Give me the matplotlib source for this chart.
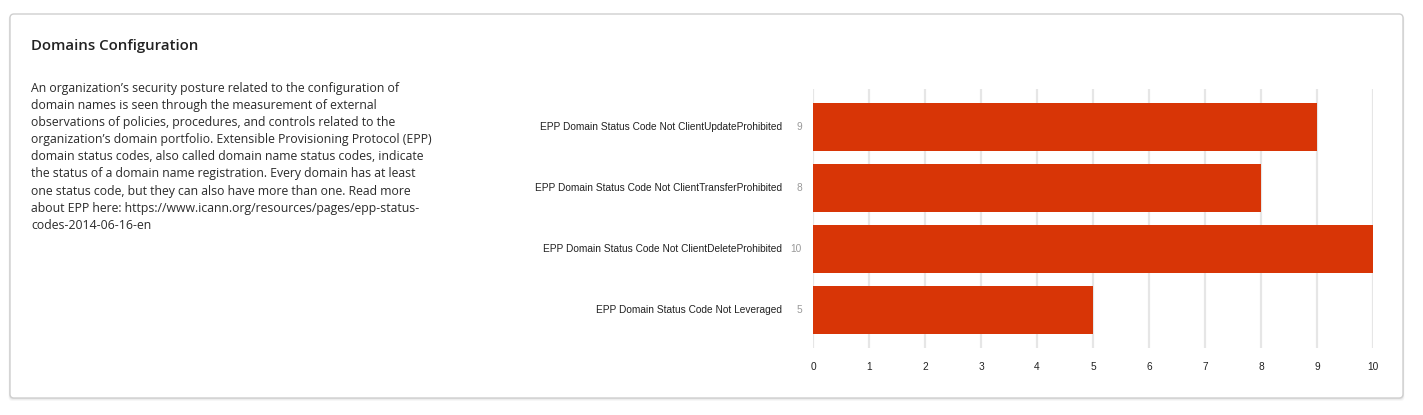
import matplotlib.pyplot as plt
from matplotlib.patches import FancyBboxPatch

# ---- data ----
categories = [
    "EPP Domain Status Code Not ClientUpdateProhibited",
    "EPP Domain Status Code Not ClientTransferProhibited",
    "EPP Domain Status Code Not ClientDeleteProhibited",
    "EPP Domain Status Code Not Leveraged",
]
counts = [9, 8, 10, 5]
x_ticks = [0, 1, 2, 3, 4, 5, 6, 7, 8, 9, 10]

title = "Domains Configuration"
description = (
    "An organization\u2019s security posture related to the configuration of\n"
    "domain names is seen through the measurement of external\n"
    "observations of policies, procedures, and controls related to the\n"
    "organization\u2019s domain portfolio. Extensible Provisioning Protocol (EPP)\n"
    "domain status codes, also called domain name status codes, indicate\n"
    "the status of a domain name registration. Every domain has at least\n"
    "one status code, but they can also have more than one. Read more\n"
    "about EPP here: https://www.icann.org/resources/pages/epp-status-\n"
    "codes-2014-06-16-en"
)

W, H = 1423, 415
fig = plt.figure(figsize=(W / 100, H / 100), dpi=100)
fig.patch.set_facecolor("white")

# -- card with soft shadow (kept below the axes) --
for i, a in enumerate([0.05, 0.04, 0.03]):
    d = (i + 1)
    sh = FancyBboxPatch((10 - d * 0.5, H - 398 - d), 1393 + d, 384 + d * 0.5,
                        boxstyle="round,pad=0,rounding_size=4",
                        transform=None, facecolor="black", alpha=a,
                        edgecolor="none", zorder=-3)
    fig.patches.append(sh)
card = FancyBboxPatch((10, H - 398), 1393, 384,
                      boxstyle="round,pad=0,rounding_size=4",
                      transform=None, facecolor="white",
                      edgecolor="#cfcfcf", linewidth=1.0, zorder=-2)
fig.patches.append(card)

# -- title and description --
fig.text(31 / W, 1 - 46 / H, title, fontsize=10.8, fontweight="semibold",
         family=["Open Sans", "DejaVu Sans"], color="#222222", va="center")
fig.text(31 / W, 1 - 82 / H, description, fontsize=8.85, linespacing=1.41,
         family=["Open Sans", "DejaVu Sans"], color="#2b2b2b", va="top")

# -- bar chart --
x0, x1 = 813, 1373
y_top, y_bot = 89, 348
ax = fig.add_axes([x0 / W, 1 - y_bot / H, (x1 - x0) / W, (y_bot - y_top) / H])
ax.set_facecolor("none")

ypos = list(range(len(categories)))
ax.barh(ypos, counts, height=48 / 61, color="#d83506", zorder=3)
ax.set_ylim(3.623, -0.623)
ax.set_xlim(0, 10)

for t in x_ticks:
    ax.axvline(t, color="#e6e6e6", linewidth=1.6, zorder=1)

for s in ax.spines.values():
    s.set_visible(False)
ax.tick_params(axis="both", length=0)
ax.set_xticks(x_ticks)
ax.set_xticklabels([str(t) for t in x_ticks], fontsize=7.3,
                   family="Liberation Sans", color="#222222")
ax.tick_params(axis="x", pad=10)
ax.set_yticks(ypos)
ax.set_yticklabels([])

for y, cat, v in zip(ypos, categories, counts):
    ax.annotate(cat, xy=(0, y), xycoords="data", xytext=(-31, 0),
                textcoords="offset pixels", ha="right", va="center",
                fontsize=7.3, family="Liberation Sans", color="#222222")
    ax.annotate(str(v), xy=(0, y), xycoords="data", xytext=(-11, 0),
                textcoords="offset pixels", ha="right", va="center",
                fontsize=7.3, family="Liberation Sans", color="#9a9a9a")

fig.savefig("out.png", dpi=100, facecolor="white")
